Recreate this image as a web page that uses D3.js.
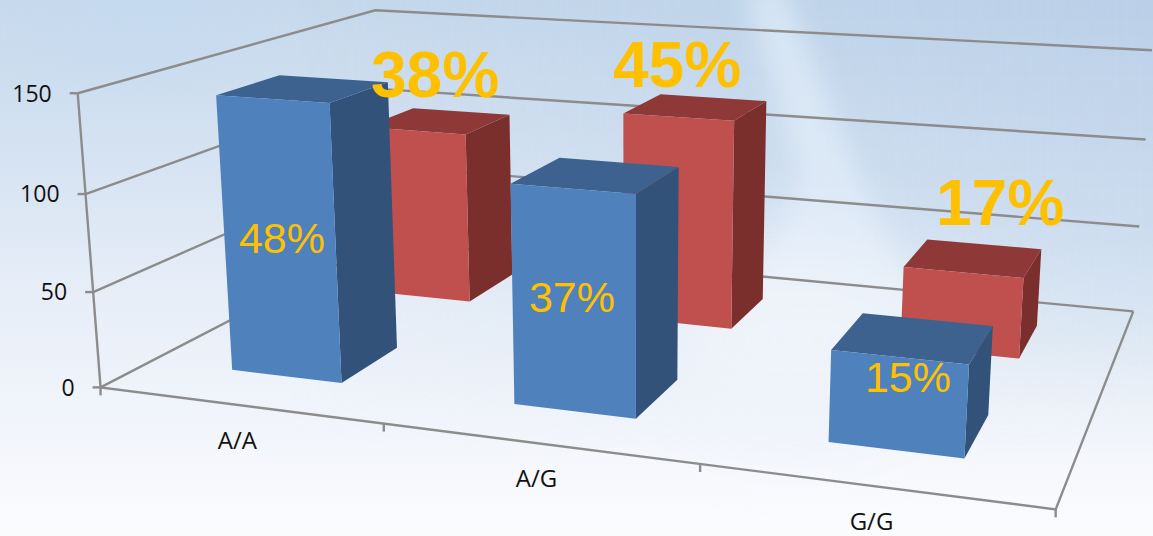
<!DOCTYPE html>
<html><head><meta charset="utf-8">
<script src="https://cdn.jsdelivr.net/npm/d3@7"></script>
<style>html,body{margin:0;padding:0;background:#fff}svg{display:block}</style></head>
<body><svg id="c" width="1153" height="536"></svg>
<script>
// Chart content
const categories = ["A/A", "A/G", "G/G"];
const seriesNames = ["blue", "red"];
const bluePercent = [48, 37, 15];
const redPercent = [38, 45, 17];
const blueTotal = 300;
const redTotal = 260;
const valueTicks = [0, 50, 100, 150];

// Styling for each series: front, top and side faces
const faces = {
  blue: { front: "#4f81bd", top: "#3d628f", side: "#32527a" },
  red: { front: "#c0504d", top: "#8e3937", side: "#7a2f2d" }
};
const gridColor = "#8c8c8c";
const labelColor = "#ffc000";

// Corners of the plot box in model space [x, depth, height] and where they land on the page
const boxCorners = [
  [0, 0, 0, 100, 387], [1, 0, 0, 1056, 509], [0, 1, 0, 384, 241], [1, 1, 0, 1133, 312],
  [0, 0, 1, 78, 94], [0, 1, 1, 375, 10], [1, 1, 1, 1152, 50]
];

// Least-squares pinhole camera through the box corners
function fitCamera(pts) {
  const A = [], b = [];
  pts.forEach(([X, Y, Z, sx, sy]) => {
    A.push([X, Y, Z, 1, 0, 0, 0, 0, -sx * X, -sx * Y, -sx * Z]); b.push(sx);
    A.push([0, 0, 0, 0, X, Y, Z, 1, -sy * X, -sy * Y, -sy * Z]); b.push(sy);
  });
  const n = 11;
  const M = d3.range(n).map(i => d3.range(n + 1).map(j =>
    j < n ? d3.sum(A, r => r[i] * r[j]) : d3.sum(A, (r, k) => r[i] * b[k])));
  for (let i = 0; i < n; i++) {
    let m = i;
    for (let k = i + 1; k < n; k++) if (Math.abs(M[k][i]) > Math.abs(M[m][i])) m = k;
    [M[i], M[m]] = [M[m], M[i]];
    for (let k = 0; k < n; k++) if (k !== i) {
      const f = M[k][i] / M[i][i];
      for (let j = i; j <= n; j++) M[k][j] -= f * M[i][j];
    }
  }
  return M.map((r, i) => r[n] / r[i]);
}
const cam = fitCamera(boxCorners);
function project(X, Y, Z) {
  const w = cam[8] * X + cam[9] * Y + cam[10] * Z + 1;
  return [(cam[0] * X + cam[1] * Y + cam[2] * Z + cam[3]) / w,
          (cam[4] * X + cam[5] * Y + cam[6] * Z + cam[7]) / w];
}

// Scales from data to model space
const xBand = d3.scaleBand(categories, [0, 1]).paddingInner(0.6).paddingOuter(0.3);
const depthBand = d3.scaleBand(seriesNames, [0, 1]).paddingInner(0.6).paddingOuter(0.3);
const valueScale = d3.scaleLinear([0, 150], [0, 1]);

const svg = d3.select("#c");
const defs = svg.append("defs");

// Sky-like backdrop
const sky = defs.append("linearGradient").attr("id", "sky").attr("x1", 0).attr("x2", 0).attr("y1", 0).attr("y2", 1);
[[0, "#c6d9ec"], [0.3, "#d6e3f2"], [0.55, "#e7eef8"], [0.8, "#f2f5fb"], [1, "#fbfcfe"]]
  .forEach(([o, c]) => sky.append("stop").attr("offset", o).attr("stop-color", c));
const skyRight = defs.append("linearGradient").attr("id", "skyRight").attr("x1", 0).attr("x2", 0).attr("y1", 0).attr("y2", 1);
[[0, "#b5cce6", 0.7], [0.45, "#c3d6ec", 0.65], [0.62, "#cfe0ee", 0.55], [0.85, "#e8eff8", 0]]
  .forEach(([o, c, a]) => skyRight.append("stop").attr("offset", o).attr("stop-color", c).attr("stop-opacity", a));
const fadeRight = defs.append("linearGradient").attr("id", "fadeRight");
[[0.25, 0], [1, 1]].forEach(([o, a]) => fadeRight.append("stop").attr("offset", o).attr("stop-color", "#fff").attr("stop-opacity", a));
defs.append("mask").attr("id", "rightMask").append("rect").attr("width", 1153).attr("height", 536).attr("fill", "url(#fadeRight)");
defs.append("filter").attr("id", "soft").attr("x", "-50%").attr("y", "-50%").attr("width", "200%").attr("height", "200%")
  .append("feGaussianBlur").attr("stdDeviation", 12);
defs.append("filter").attr("id", "softer").attr("x", "-50%").attr("y", "-50%").attr("width", "200%").attr("height", "200%")
  .append("feGaussianBlur").attr("stdDeviation", 40);

const bg = svg.append("g");
bg.append("rect").attr("width", 1153).attr("height", 536).attr("fill", "url(#sky)");
bg.append("rect").attr("width", 1153).attr("height", 536).attr("fill", "url(#skyRight)").attr("mask", "url(#rightMask)");
bg.append("ellipse").attr("cx", 140).attr("cy", 25).attr("rx", 110).attr("ry", 35).attr("fill", "#c4daf2").attr("opacity", 0.7).attr("filter", "url(#softer)");
bg.append("path").attr("d", "M745,-10 L785,-10 L880,230 L940,340 L740,340 L800,180 Z").attr("fill", "#e6f1fb").attr("opacity", 0.6).attr("filter", "url(#soft)");
bg.append("ellipse").attr("cx", 800).attr("cy", 340).attr("rx", 150).attr("ry", 90).attr("fill", "#f0f4fb").attr("opacity", 0.9).attr("filter", "url(#softer)");

// Walls and floor lines
const line = d3.line();
const frame = svg.append("g").attr("fill", "none").attr("stroke", gridColor).attr("stroke-width", 2.4);
valueTicks.forEach(v => {
  const z = valueScale(v);
  frame.append("path").attr("d", line([project(0, 0, z), project(0, 1, z), project(1, 1, z)]));
  const [tx, ty] = project(0, 0, z);
  frame.append("path").attr("d", line([[tx - 8, ty], [tx, ty]]));
});
frame.append("path").attr("d", line([project(0, 0, 1), project(0, 0, 0), project(1, 0, 0), project(1, 1, 0)]));
d3.range(categories.length + 1).forEach(i => {
  const [tx, ty] = project(i / categories.length, 0, 0);
  frame.append("path").attr("d", line([[tx, ty], [tx, ty + 8]]));
});

// Bars, far series first so the near one paints over it
const barRows = [
  { name: "red", percent: redPercent, total: redTotal },
  { name: "blue", percent: bluePercent, total: blueTotal }
];
barRows.forEach(row => {
  const g = svg.append("g");
  const col = faces[row.name];
  row.percent.forEach((pct, i) => {
    const v = pct / 100 * row.total;
    const x0 = xBand(categories[i]), x1 = x0 + xBand.bandwidth();
    const d0 = depthBand(row.name), d1 = d0 + depthBand.bandwidth();
    const z = valueScale(v);
    const poly = pts => g.append("path").attr("d", line(pts) + "Z");
    poly([project(x1, d0, 0), project(x1, d1, 0), project(x1, d1, z), project(x1, d0, z)]).attr("fill", col.side);
    poly([project(x0, d0, z), project(x1, d0, z), project(x1, d1, z), project(x0, d1, z)]).attr("fill", col.top);
    poly([project(x0, d0, 0), project(x1, d0, 0), project(x1, d0, z), project(x0, d0, z)]).attr("fill", col.front);
  });
});

// Value axis labels
const axisFont = "'Open Sans', sans-serif";
svg.append("g").selectAll("text").data(valueTicks).join("text")
  .attr("x", v => project(0, 0, valueScale(v))[0] - 26)
  .attr("y", v => project(0, 0, valueScale(v))[1])
  .attr("dy", "0.36em").attr("text-anchor", "end")
  .attr("font-family", axisFont).attr("font-size", 23).attr("fill", "#111").text(v => v);

// Category labels, under the front edge
svg.append("g").selectAll("text").data(categories).join("text")
  .attr("x", c => project(xBand(c) + xBand.bandwidth() / 2, 0, 0)[0] - 1)
  .attr("y", c => project(xBand(c) + xBand.bandwidth() / 2, 0, 0)[1] + 44)
  .attr("text-anchor", "middle")
  .attr("font-family", axisFont).attr("font-size", 24).attr("fill", "#111").text(c => c);

// Hand-placed percentage labels: the near series sits on its bars, the far one above them
const labelSpots = {
  blue: [[282, 253], [572, 312], [908, 392]],
  red: [[435, 97], [677, 87], [1000, 225]]
};
const labelLayer = svg.append("g").attr("font-family", "'Liberation Sans', Arial, sans-serif").attr("fill", labelColor).attr("text-anchor", "middle");
bluePercent.forEach((pct, i) => labelLayer.append("text").attr("x", labelSpots.blue[i][0]).attr("y", labelSpots.blue[i][1]).attr("font-size", 43).text(pct + "%"));
redPercent.forEach((pct, i) => labelLayer.append("text").attr("x", labelSpots.red[i][0]).attr("y", labelSpots.red[i][1]).attr("font-size", 64).attr("font-weight", "bold").text(pct + "%"));
</script></body></html>
